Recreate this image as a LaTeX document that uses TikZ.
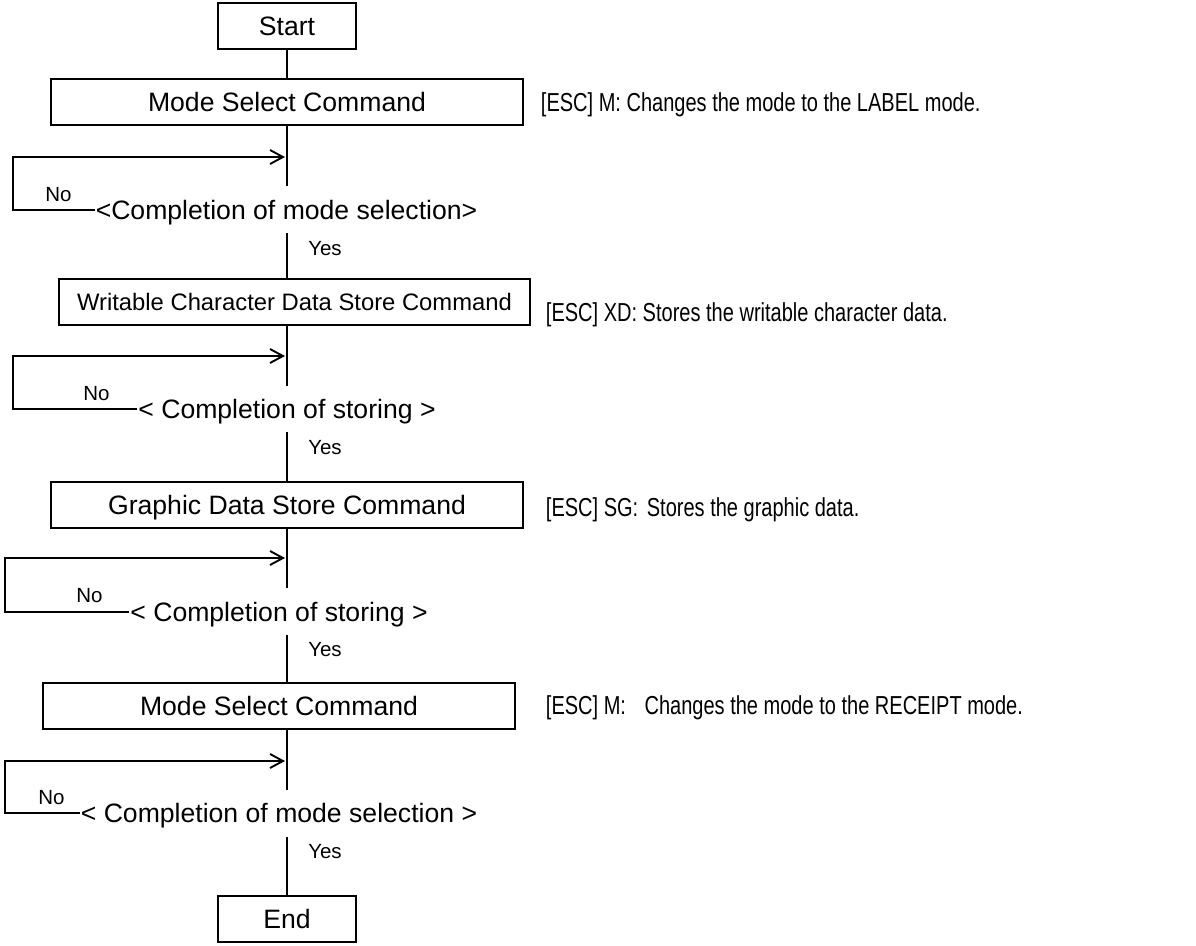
\documentclass[tikz,border=0pt]{standalone}
\usepackage{fontspec}
\setmainfont{Liberation Sans}
\newfontfamily\narrowfont[FakeStretch=0.77]{Liberation Sans}
\usetikzlibrary{arrows.meta}
\begin{document}
\begin{tikzpicture}[x=1pt,y=-1pt,line width=1.9pt,
  box/.style={draw,inner sep=0pt,minimum height=46pt,font=\fontsize{26.6}{30}\selectfont,text height=25pt,text depth=6pt},
  smallbox/.style={box,font=\fontsize{23.8}{28}\selectfont,text height=23pt,text depth=6pt},
  dec/.style={inner sep=0pt,font=\fontsize{26.6}{30}\selectfont,text height=25pt,text depth=6pt},
  lbl/.style={inner sep=0pt,font=\fontsize{20.5}{24}\selectfont,text height=19.3pt,text depth=5pt},
  note/.style={anchor=west,inner sep=0pt,font=\narrowfont\fontsize{26}{30}\selectfont,text height=24.6pt,text depth=6pt},
  back/.style={-{Straight Barb[length=13pt,width=14pt]}}]
\useasboundingbox[fill=white] (0,0) rectangle (1196,945);

% boxes
\node[box,minimum width=138pt] (start) at (287,26) {Start};
\node[box,minimum width=472pt] (b1) at (287,102) {Mode Select Command};
\node[smallbox,minimum width=471pt] (b2) at (294.5,302) {Writable Character Data Store Command};
\node[box,minimum width=472pt] (b3) at (287,505) {Graphic Data Store Command};
\node[box,minimum width=472pt] (b4) at (279,706) {Mode Select Command};
\node[box,minimum width=138pt] (end) at (287,919) {End};

% decisions
\node[dec] (d1) at (286.5,210) {<Completion of mode selection>};
\node[dec] (d2) at (287,409) {< Completion of storing >};
\node[dec] (d3) at (279,612) {< Completion of storing >};
\node[dec] (d4) at (279,813) {< Completion of mode selection >};

% notes
\node[note] (n1) at (540,102) {[ESC] M: Changes the mode to the LABEL mode.};
\node[note] (n2) at (545,312) {[ESC] XD: Stores the writable character data.};
\node[note] (n3) at (545,507) {[ESC] SG:\hspace{3pt} Stores the graphic data.};
\node[note] (n4) at (545,705) {[ESC] M:\hspace{13pt} Changes the mode to the RECEIPT mode.};

% labels
\node[lbl] (no1) at (58.5,194) {No};
\node[lbl] (no2) at (96.5,393) {No};
\node[lbl] (no3) at (89.5,595) {No};
\node[lbl] (no4) at (51.5,797) {No};
\node[lbl] (y1) at (325,248) {Yes};
\node[lbl] (y2) at (325,447) {Yes};
\node[lbl] (y3) at (325,649) {Yes};
\node[lbl] (y4) at (325,851) {Yes};

% axis coordinates
\coordinate (a1) at (287,186); \coordinate (c1) at (287,233);
\coordinate (a2) at (287,386); \coordinate (c2) at (287,432);
\coordinate (a3) at (287,588); \coordinate (c3) at (287,635);
\coordinate (a4) at (287,790); \coordinate (c4) at (287,837);
\coordinate (m1) at (285,157); \coordinate (l1) at (13,157);
\coordinate (m2) at (285,356); \coordinate (l2) at (13,356);
\coordinate (m3) at (285,558); \coordinate (l3) at (5,558);
\coordinate (m4) at (285,761); \coordinate (l4) at (5,761);

% main flow
\draw (start.south) -- (b1.north);
\draw (b1.south) -- (a1);
\draw (c1) -- (b2.north -| c1);
\draw (b2.south -| a2) -- (a2);
\draw (c2) -- (b3.north -| c2);
\draw (b3.south -| a3) -- (a3);
\draw (c3) -- (b4.north -| c3);
\draw (b4.south -| a4) -- (a4);
\draw (c4) -- (end.north);

% loops
\draw[back] (d1.west) -| (l1) -- (m1);
\draw[back] (d2.west) -| (l2) -- (m2);
\draw[back] (d3.west) -| (l3) -- (m3);
\draw[back] (d4.west) -| (l4) -- (m4);
\end{tikzpicture}
\end{document}
